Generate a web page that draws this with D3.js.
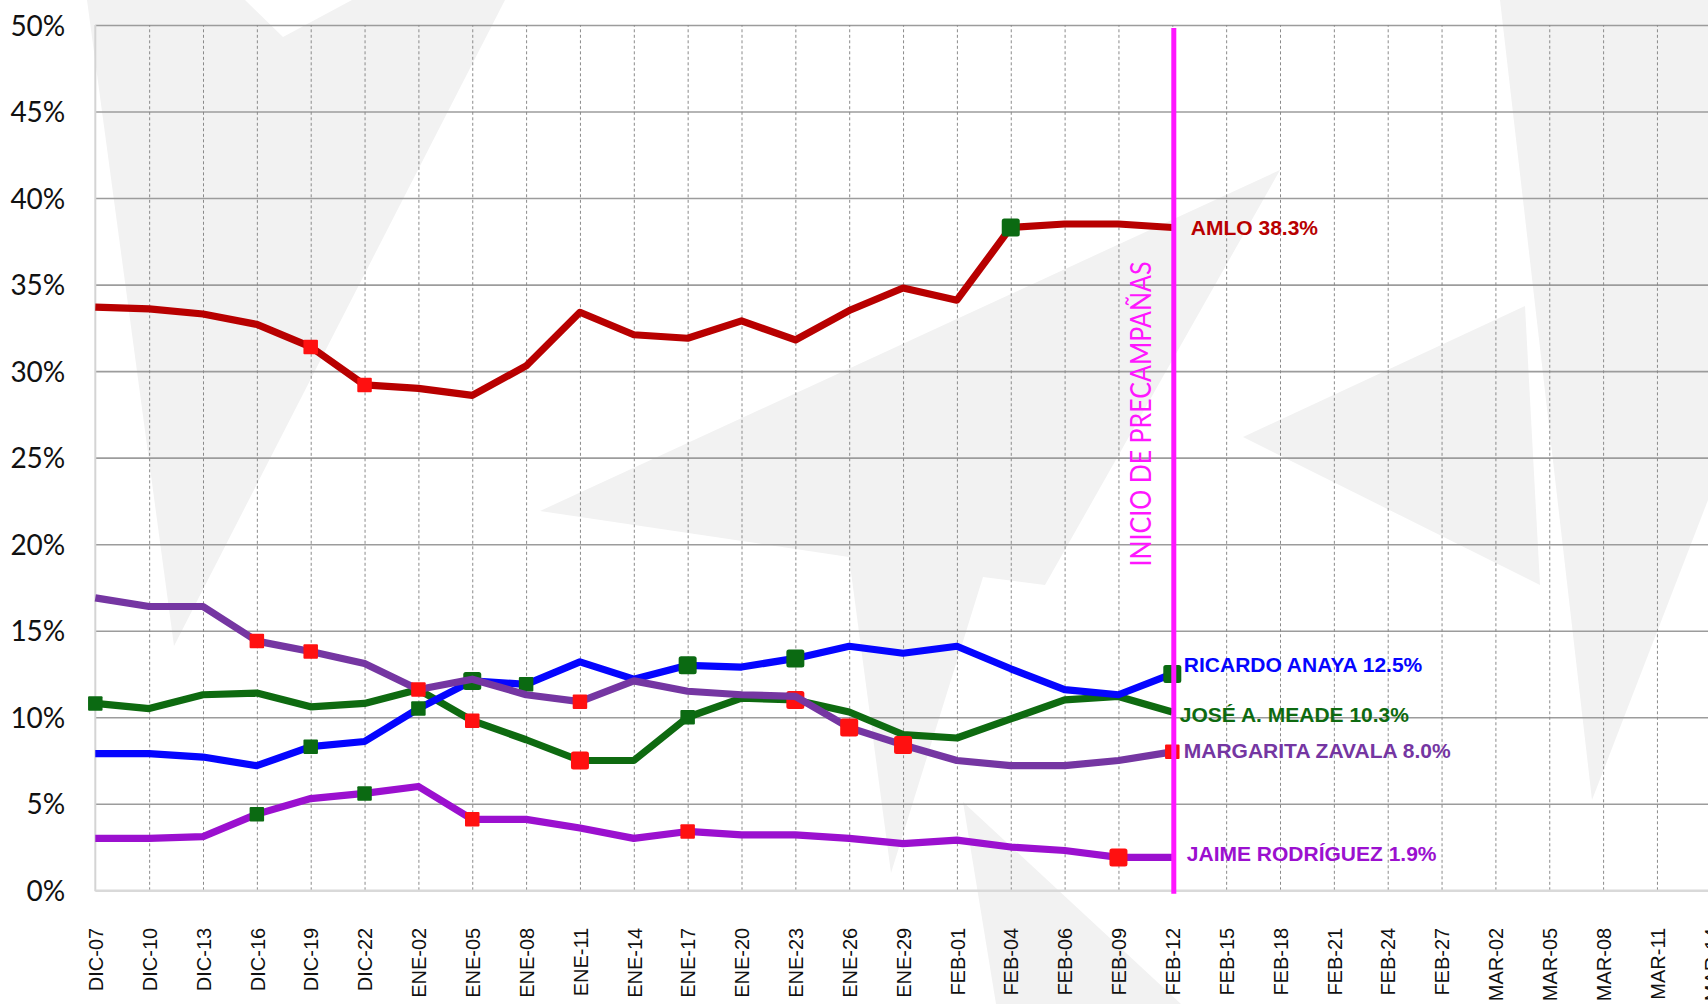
<!DOCTYPE html>
<html>
<head>
<meta charset="utf-8">
<script src="https://cdn.jsdelivr.net/npm/d3@7"></script>
<style>
  html, body { margin: 0; padding: 0; background: #ffffff; overflow: hidden; }
  svg { display: block; }
</style>
</head>
<body>
<svg id="chart" width="1708" height="1004"></svg>
<script>
// ---------------- DATA ----------------
const categories = ["DIC-07","DIC-10","DIC-13","DIC-16","DIC-19","DIC-22","ENE-02","ENE-05","ENE-08","ENE-11",
  "ENE-14","ENE-17","ENE-20","ENE-23","ENE-26","ENE-29","FEB-01","FEB-04","FEB-06","FEB-09","FEB-12",
  "FEB-15","FEB-18","FEB-21","FEB-24","FEB-27","MAR-02","MAR-05","MAR-08","MAR-11","MAR-14"];

const yTicks = [0, 5, 10, 15, 20, 25, 30, 35, 40, 45, 50];

const amlo      = [33.7,33.6,33.3,32.7,31.4,29.2,29.0,28.6,30.3,33.4,32.1,31.9,32.9,31.8,33.5,34.8,34.1,38.3,38.5,38.5,38.3];
const anaya     = [7.9,7.9,7.7,7.2,8.3,8.6,10.5,12.1,11.9,13.2,12.2,13.0,12.9,13.4,14.1,13.7,14.1,12.8,11.6,11.3,12.5];
const meade     = [10.8,10.5,11.3,11.4,10.6,10.8,11.6,9.8,8.7,7.5,7.5,10.0,11.1,11.0,10.3,9.0,8.8,9.9,11.0,11.2,10.3];
const zavala    = [16.9,16.4,16.4,14.4,13.8,13.1,11.6,12.2,11.3,10.9,12.1,11.5,11.3,11.2,9.4,8.4,7.5,7.2,7.2,7.5,8.0];
const rodriguez = [3.0,3.0,3.1,4.4,5.3,5.6,6.0,4.1,4.1,3.6,3.0,3.4,3.2,3.2,3.0,2.7,2.9,2.5,2.3,1.9,1.9];

// change markers: [category index, direction]
const amloMarkers      = [[4,"down"],[5,"down"],[17,"up"]];
const anayaMarkers     = [[4,"up"],[6,"up"],[7,"up"],[8,"up"],[11,"up"],[13,"up"],[20,"up"]];
const meadeMarkers     = [[0,"up"],[7,"down"],[9,"down"],[11,"up"],[13,"down"]];
const zavalaMarkers    = [[3,"down"],[4,"down"],[6,"down"],[9,"down"],[14,"down"],[15,"down"],[20,"down"]];
const rodriguezMarkers = [[3,"up"],[5,"up"],[7,"down"],[11,"down"],[19,"down"]];

const seriesNames = ["JOSÉ A. MEADE","RICARDO ANAYA","MARGARITA ZAVALA","JAIME RODRÍGUEZ","AMLO"];
const eventLabel = "INICIO DE PRECAMPAÑAS";
const eventCategory = "FEB-12";

// ---------------- STYLE / LAYOUT ----------------
const series = [
  {name: seriesNames[0], values: meade,     markers: meadeMarkers,     color: "#0e6a10", labelDx: 6,  labelDy: 10},
  {name: seriesNames[1], values: anaya,     markers: anayaMarkers,     color: "#0505ff", labelDx: 10, labelDy: -2},
  {name: seriesNames[2], values: zavala,    markers: zavalaMarkers,    color: "#7536a2", labelDx: 10, labelDy: 6},
  {name: seriesNames[3], values: rodriguez, markers: rodriguezMarkers, color: "#9b10cf", labelDx: 13, labelDy: 4},
  {name: seriesNames[4], values: amlo,      markers: amloMarkers,      color: "#b80000", labelDx: 17, labelDy: 8}
];
const bigMarkers = new Set(["RICARDO ANAYA:7","RICARDO ANAYA:11","RICARDO ANAYA:13","RICARDO ANAYA:20",
  "JOSÉ A. MEADE:9","JOSÉ A. MEADE:13","MARGARITA ZAVALA:14","MARGARITA ZAVALA:15",
  "JAIME RODRÍGUEZ:19","AMLO:17"]);
const markerColor = {up: "#0b6a12", down: "#ff1010"};

// faint watermark shapes in the page background (decoration, pixel coordinates)
const watermark = [
  [[87,0],[245,0],[283,37],[352,0],[505,0],[174,646]],
  [[1500,0],[1708,0],[1708,500],[1592,800]],
  [[1243,437],[1525,306],[1540,585]],
  [[540,511],[1280,170],[1045,585],[983,577],[891,873],[849,557]],
  [[963,802],[996,1004],[1181,1004]]
];

const W = 1708, H = 1004;
const x0 = 95.3, step = 53.85;
const svg = d3.select("#chart");

const x = d3.scalePoint().domain(categories).range([x0, x0 + step * (categories.length - 1)]);
const y = d3.scaleLinear().domain([0, 50]).range([890.3, 25]);

svg.append("rect").attr("width", W).attr("height", H).attr("fill", "#ffffff");
svg.append("g").selectAll("polygon").data(watermark).join("polygon")
  .attr("points", d => d.map(p => p.join(",")).join(" "))
  .attr("fill", "#f2f2f2");

// horizontal gridlines
svg.append("g")
  .attr("transform", `translate(${x0},0)`)
  .call(d3.axisLeft(y).tickValues(yTicks.filter(d => d > 0)).tickSize(-(W - x0 + 10)).tickFormat(""))
  .call(g => g.select(".domain").remove())
  .call(g => g.selectAll("line").attr("stroke", "#9c9c9c").attr("stroke-width", 1.6));

// vertical dashed gridlines
svg.append("g")
  .attr("transform", `translate(0,${y(0)})`)
  .call(d3.axisBottom(x).tickValues(categories.slice(1)).tickSize(-(y(0) - y(50))).tickFormat(""))
  .call(g => g.select(".domain").remove())
  .call(g => g.selectAll("line").attr("stroke", "#8a8a8a").attr("stroke-width", 1).attr("stroke-dasharray", "3,2.5"));

// left axis line and bottom axis line
svg.append("line").attr("x1", x0).attr("x2", x0).attr("y1", y(50)).attr("y2", y(0) + 1)
  .attr("stroke", "#d4d4d4").attr("stroke-width", 2);
svg.append("line").attr("x1", x0).attr("x2", W).attr("y1", y(0) + 0.5).attr("y2", y(0) + 0.5)
  .attr("stroke", "#d9d9d9").attr("stroke-width", 2.5);

// y-axis labels
svg.append("g")
  .attr("transform", `translate(${x0},0)`)
  .call(d3.axisLeft(y).tickValues(yTicks).tickSize(0).tickPadding(30).tickFormat(d => d + "%"))
  .call(g => g.select(".domain").remove())
  .call(g => g.selectAll("text")
    .attr("font-family", "Lato, 'Open Sans', sans-serif")
    .attr("font-size", 28)
    .attr("fill", "#111")
    .attr("dy", "0.36em"));

// x-axis labels
svg.append("g")
  .attr("transform", `translate(0,${y(0)})`)
  .call(d3.axisBottom(x).tickSize(0).tickFormat(d => d))
  .call(g => g.select(".domain").remove())
  .call(g => g.selectAll("text")
    .attr("font-family", "'Liberation Sans', Arial, sans-serif")
    .attr("font-size", 20)
    .attr("fill", "#111")
    .attr("text-anchor", "end")
    .attr("transform", "rotate(-90)")
    .attr("x", -37.5)
    .attr("y", 0)
    .attr("dy", "0.36em"));

// series lines + markers
const line = d3.line().x((d, i) => x(categories[i])).y(d => y(d));
series.forEach(s => {
  const g = svg.append("g");
  g.append("path")
    .attr("d", line(s.values))
    .attr("fill", "none")
    .attr("stroke", s.color)
    .attr("stroke-width", 7.2)
    .attr("stroke-linejoin", "round");
  g.selectAll("rect.m").data(s.markers).join("rect")
    .attr("class", "m")
    .each(function(m) {
      const big = bigMarkers.has(s.name + ":" + m[0]);
      const sz = big ? 18 : 14.5;
      d3.select(this)
        .attr("x", x(categories[m[0]]) - sz / 2)
        .attr("y", y(s.values[m[0]]) - sz / 2)
        .attr("width", sz).attr("height", sz)
        .attr("rx", big ? 2.5 : 1)
        .attr("fill", markerColor[m[1]]);
    });
});

// event line
const ex = x(eventCategory) + 1.5;
svg.append("line")
  .attr("x1", ex).attr("x2", ex)
  .attr("y1", 28).attr("y2", y(0) + 3.5)
  .attr("stroke", "#ff16ff").attr("stroke-width", 5);
svg.append("text")
  .attr("transform", `translate(${ex - 22.5},414) rotate(-90)`)
  .attr("text-anchor", "middle")
  .attr("font-family", "Lato, 'Open Sans', sans-serif")
  .attr("font-size", 28)
  .attr("textLength", 305)
  .attr("lengthAdjust", "spacingAndGlyphs")
  .attr("fill", "#ff16ff")
  .text(eventLabel);

// end labels
series.forEach(s => {
  const last = s.values[s.values.length - 1];
  svg.append("text")
    .attr("x", ex + s.labelDx)
    .attr("y", y(last) + s.labelDy)
    .attr("font-family", "'Liberation Sans', Arial, sans-serif")
    .attr("font-weight", "bold")
    .attr("font-size", 21)
    .attr("fill", s.color)
    .text(s.name + " " + last.toFixed(1) + "%");
});
</script>
</body>
</html>
